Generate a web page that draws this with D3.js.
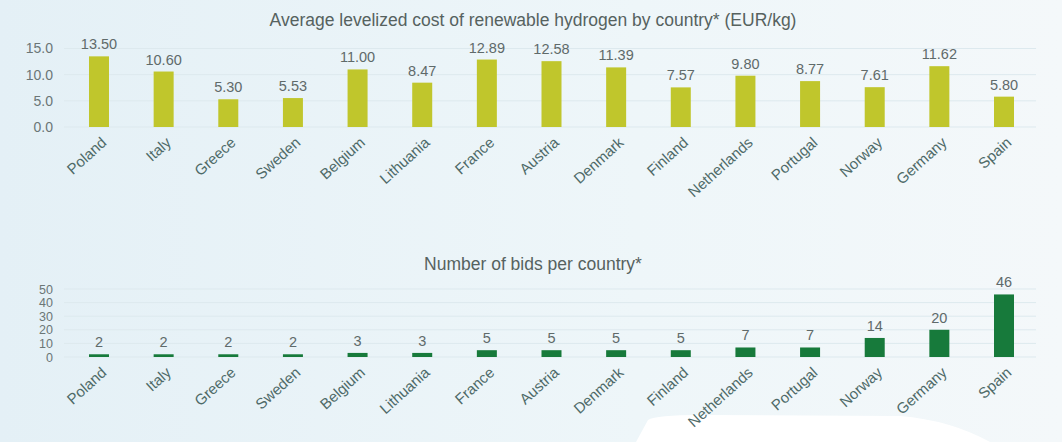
<!DOCTYPE html>
<html>
<head>
<meta charset="utf-8">
<script src="https://cdn.jsdelivr.net/npm/d3@7"></script>
<style>
  html, body { margin: 0; padding: 0; }
  body { width: 1062px; height: 442px; overflow: hidden; }
  text { font-family: "Liberation Sans", Arial, sans-serif; }
</style>
</head>
<body>
<div id="chart"></div>
<script>
const countries = ['Poland', 'Italy', 'Greece', 'Sweden', 'Belgium', 'Lithuania', 'France', 'Austria',
  'Denmark', 'Finland', 'Netherlands', 'Portugal', 'Norway', 'Germany', 'Spain'];
const costValues = [13.50, 10.60, 5.30, 5.53, 11.00, 8.47, 12.89, 12.58, 11.39, 7.57, 9.80, 8.77, 7.61, 11.62, 5.80];
const bidValues = [2, 2, 2, 2, 3, 3, 5, 5, 5, 5, 7, 7, 14, 20, 46];
const costTicks = [0, 5, 10, 15];
const bidTicks = [0, 10, 20, 30, 40, 50];

const costTitle = 'Average levelized cost of renewable hydrogen by country* (EUR/kg)';
const bidTitle = 'Number of bids per country*';

var width = 1062;
var height = 442;

var svg = d3.select('#chart').append('svg')
    .attr('width', width)
    .attr('height', height);

// soft blue background like the source slide
var defs = svg.append('defs');
var grad = defs.append('linearGradient').attr('id', 'bg').attr('x1', 0).attr('x2', 1).attr('y1', 0).attr('y2', 0);
grad.append('stop').attr('offset', '0%').attr('stop-color', '#e4f0f6');
grad.append('stop').attr('offset', '60%').attr('stop-color', '#eef6f9');
grad.append('stop').attr('offset', '100%').attr('stop-color', '#f4f8fa');
svg.append('rect').attr('width', width).attr('height', height).attr('fill', 'url(#bg)');
svg.append('path')
    .attr('d', 'M636,442 L648,420 Q656,415 700,415 L900,416 Q950,420 990,442 Z')
    .attr('fill', '#ffffff');

var x = d3.scalePoint().domain(countries).range([99, 1004]);
var barW = 20;

function drawPanel(opts) {
  var g = svg.append('g');
  var y = d3.scaleLinear().domain(opts.domain).range(opts.range);

  g.append('text')
      .attr('x', 533)
      .attr('y', opts.titleY)
      .attr('text-anchor', 'middle')
      .attr('font-size', 17.5)
      .attr('fill', '#56625f')
      .text(opts.title);

  g.selectAll('.grid')
      .data(opts.ticks)
    .enter().append('line')
      .attr('class', 'grid')
      .attr('x1', 64)
      .attr('x2', 1036)
      .attr('y1', d => y(d))
      .attr('y2', d => y(d))
      .attr('stroke', '#dde9ee')
      .attr('stroke-width', 1);

  var axis = d3.axisLeft(y).tickValues(opts.ticks).tickFormat(opts.fmt).tickSize(0).tickPadding(0);
  var ag = g.append('g')
      .attr('transform', 'translate(53,0)')
      .call(axis);
  ag.select('.domain').remove();
  ag.selectAll('text')
      .attr('font-size', opts.tickSize)
      .attr('fill', '#6b7676')
      .style('font-family', '"Liberation Sans", Arial, sans-serif');

  g.selectAll('.bar')
      .data(opts.values)
    .enter().append('rect')
      .attr('class', 'bar')
      .attr('x', (d, i) => x(countries[i]) - barW / 2)
      .attr('y', d => y(d))
      .attr('width', barW)
      .attr('height', d => y(0) - y(d))
      .attr('fill', opts.color);

  g.selectAll('.val')
      .data(opts.values)
    .enter().append('text')
      .attr('class', 'val')
      .attr('x', (d, i) => x(countries[i]))
      .attr('y', d => y(d) - 7)
      .attr('text-anchor', 'middle')
      .attr('font-size', 14.5)
      .attr('fill', '#5f6a6a')
      .text(opts.valFmt);

  g.selectAll('.lbl')
      .data(countries)
    .enter().append('text')
      .attr('class', 'lbl')
      .attr('transform', d => 'translate(' + (x(d) + 5) + ',' + opts.labelY + ') rotate(-42)')
      .attr('text-anchor', 'end')
      .attr('dy', '0.35em')
      .attr('font-size', 15)
      .attr('fill', '#4e6a68')
      .text(d => d);
}

drawPanel({
  title: costTitle, titleY: 26,
  domain: [0, 15], range: [127, 48.5],
  ticks: costTicks, fmt: d3.format('.1f'), tickSize: 14,
  values: costValues, valFmt: d3.format('.2f'),
  color: '#c0c62c', labelY: 140
});

drawPanel({
  title: bidTitle, titleY: 270,
  domain: [0, 50], range: [357, 289],
  ticks: bidTicks, fmt: d3.format('d'), tickSize: 12.5,
  values: bidValues, valFmt: d3.format('d'),
  color: '#177a3b', labelY: 370
});
</script>
</body>
</html>
